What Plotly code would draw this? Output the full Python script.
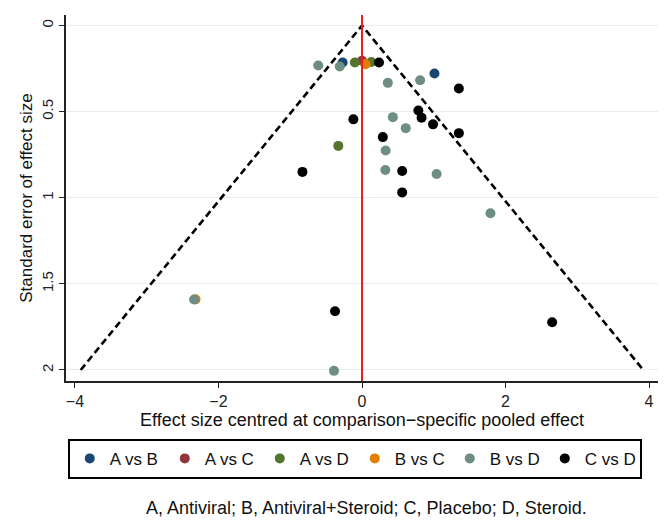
import plotly.graph_objects as go

# ---- data (effect size centred, standard error) ----
series_names = ["A vs B", "A vs C", "A vs D", "B vs C", "B vs D", "C vs D"]
series_colors = ["#1a476f", "#90353b", "#55752f", "#e37e00", "#6e8e84", "#000000"]

ab_x = [-0.27, 1.01]
ab_y = [0.215, 0.279]

ac_x = [0.00]
ac_y = [0.205]

ad_x = [-0.10, 0.13, -0.33]
ad_y = [0.215, 0.212, 0.699]

bc_x = [0.05, -2.32]
bc_y = [0.225, 1.590]

bd_x = [-0.61, -0.31, 0.36, 0.81, 0.43, 0.61, 0.33, 0.325, 1.04, 1.79, -2.34, -0.39]
bd_y = [0.232, 0.238, 0.333, 0.318, 0.532, 0.596, 0.726, 0.839, 0.862, 1.09, 1.591, 2.005]

cd_x = [0.237, 1.35, -0.12, 0.785, 0.83, 0.99, 1.35, 0.29, -0.83, 0.56, 0.56, -0.376, 2.65]
cd_y = [0.215, 0.366, 0.545, 0.493, 0.535, 0.574, 0.625, 0.648, 0.850, 0.845, 0.969, 1.659, 1.723]

series_x = [ab_x, ac_x, ad_x, bc_x, bd_x, cd_x]
series_y = [ab_y, ac_y, ad_y, bc_y, bd_y, cd_y]

# pseudo 95% confidence funnel
funnel_se = [2.0, 0.0, 2.0]
funnel_z = [-1.96, 0.0, 1.96]
funnel_x = [z * s for z, s in zip(funnel_z, funnel_se)]

x_ticks = [-4, -2, 0, 2, 4]
x_tick_labels = ["\u22124", "\u22122", "0", "2", "4"]
y_ticks = [0, 0.5, 1, 1.5, 2]
y_tick_labels = ["0", "0.5", "1", "1.5", "2"]

FONT = "Liberation Sans, Arial, sans-serif"

fig = go.Figure()

fig.add_trace(go.Scatter(
    x=funnel_x, y=funnel_se, mode="lines",
    line=dict(color="black", width=2.6, dash="7px,4px"),
    showlegend=False, hoverinfo="skip"))

for name, color, xs, ys in zip(series_names, series_colors, series_x, series_y):
    fig.add_trace(go.Scatter(
        x=xs, y=ys, mode="markers", name=name,
        marker=dict(color=color, size=10, line=dict(width=0))))

fig.add_shape(type="line", xref="x", yref="paper", x0=0, x1=0, y0=0, y1=1,
              line=dict(color="#e8201c", width=2), layer="above")

fig.update_layout(
    width=670, height=529,
    margin=dict(l=66, r=12, t=15, b=148, autoexpand=False),
    paper_bgcolor="white", plot_bgcolor="white",
    font=dict(family=FONT, size=16, color="#222"),
    showlegend=True,
    legend=dict(orientation="h", x=0.003, xanchor="left", y=-0.158, yanchor="top",
                bordercolor="black", borderwidth=2, bgcolor="white",
                font=dict(size=17, color="#111"),
                entrywidth=50, entrywidthmode="pixels", itemwidth=30,
                traceorder="normal"),
    xaxis=dict(range=[-4.125, 4.125], tickvals=x_ticks, ticktext=x_tick_labels,
               showgrid=False, zeroline=False, showline=True, linecolor="#222",
               linewidth=1.5, ticks="outside", ticklen=5, tickcolor="#222",
               tickfont=dict(size=16),
               title=dict(text="Effect size centred at comparison\u2212specific pooled effect",
                          font=dict(size=18, color="#111"), standoff=4)),
    yaxis=dict(range=[2.064, -0.061], tickvals=y_ticks, ticktext=y_tick_labels,
               showgrid=True, gridcolor="#e4eef1", gridwidth=1.2, zeroline=False,
               showline=True, linecolor="#222", linewidth=1.5, ticks="outside",
               ticklen=5, tickcolor="#222", tickangle=-90, tickfont=dict(size=15),
               title=dict(text="Standard error of effect size",
                          font=dict(size=17, color="#111"), standoff=2)),
)

fig.add_annotation(text="A, Antiviral; B, Antiviral+Steroid; C, Placebo; D, Steroid.",
                   xref="paper", yref="paper", x=0.508, y=-0.347,
                   xanchor="center", yanchor="middle", showarrow=False,
                   font=dict(size=18, color="#111"))

fig.write_html("out.html")
